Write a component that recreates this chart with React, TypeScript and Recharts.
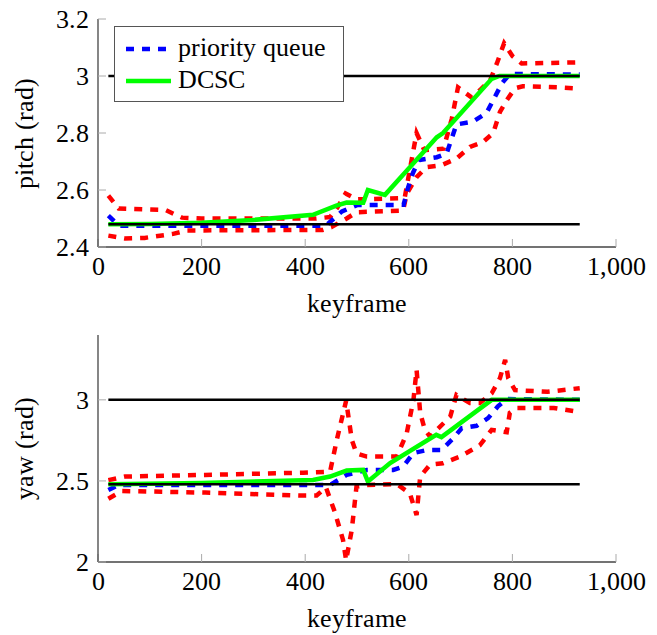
import React from 'react';
import { LineChart, Line, XAxis, YAxis } from 'recharts';

// keyframe ticks shared by both panels
const xTicks = [0, 200, 400, 600, 800, 1000];
const pitchTicks = [2.4, 2.6, 2.8, 3, 3.2];
const yawTicks = [2, 2.5, 3];

// reference levels (start / goal)
const pitchRefs = [2.48, 3];
const yawRefs = [2.48, 3];
const refSpan = [20, 930];

// pitch: [keyframe, rad]
const pitchDcsc = [
  [20, 2.48], [100, 2.481], [200, 2.485], [300, 2.495], [415, 2.513], [460, 2.545],
  [480, 2.556], [512, 2.555], [521, 2.6], [554, 2.583], [602, 2.68], [654, 2.785],
  [666, 2.8], [760, 2.99], [775, 3.0], [930, 3.0],
];
const pitchQueue = [
  [20, 2.51], [40, 2.475], [440, 2.475], [471, 2.525], [500, 2.547], [590, 2.548],
  [598, 2.605], [608, 2.66], [620, 2.705], [654, 2.715], [673, 2.728], [692, 2.83],
  [724, 2.84], [750, 2.87], [770, 2.94], [780, 2.975], [795, 3.007], [930, 3.005],
];
const pitchUpper = [
  [20, 2.58], [40, 2.535], [130, 2.53], [162, 2.503], [200, 2.5], [420, 2.5],
  [448, 2.505], [461, 2.535], [478, 2.588], [500, 2.567], [592, 2.572], [615, 2.8],
  [630, 2.74], [667, 2.745], [683, 2.85], [695, 2.96], [721, 2.925], [737, 2.95],
  [757, 2.985], [770, 3.044], [784, 3.115], [800, 3.07], [818, 3.044], [930, 3.048],
];
const pitchLower = [
  [20, 2.44], [52, 2.43], [90, 2.432], [145, 2.446], [172, 2.458], [434, 2.46],
  [451, 2.47], [480, 2.5], [499, 2.522], [589, 2.528], [596, 2.587], [615, 2.645],
  [634, 2.68], [663, 2.687], [692, 2.71], [718, 2.751], [743, 2.768], [763, 2.8],
  [776, 2.874], [789, 2.915], [805, 2.957], [820, 2.964], [892, 2.96], [930, 2.956],
];

// yaw: [keyframe, rad]
const yawDcsc = [
  [20, 2.48], [200, 2.487], [415, 2.506], [448, 2.527], [480, 2.564], [512, 2.568],
  [521, 2.496], [564, 2.61], [653, 2.784], [663, 2.77], [760, 3.0], [930, 3.0],
];
const yawQueue = [
  [20, 2.444], [40, 2.475], [448, 2.475], [480, 2.537], [519, 2.568], [570, 2.568],
  [589, 2.588], [609, 2.672], [634, 2.69], [663, 2.69], [685, 2.76], [702, 2.825],
  [731, 2.84], [753, 2.887], [772, 2.96], [789, 3.005], [930, 3.0],
];
const yawUpper = [
  [20, 2.505], [52, 2.527], [207, 2.537], [396, 2.551], [448, 2.557], [461, 2.753],
  [479, 2.995], [490, 2.753], [499, 2.67], [519, 2.65], [577, 2.65], [596, 2.794],
  [609, 3.0], [615, 3.185], [622, 2.92], [631, 2.815], [641, 2.773], [680, 2.897],
  [692, 3.03], [718, 2.98], [737, 2.98], [760, 3.04], [776, 3.134], [786, 3.247],
  [792, 3.134], [805, 3.06], [868, 3.05], [930, 3.072],
];
const yawLower = [
  [20, 2.39], [46, 2.438], [207, 2.428], [393, 2.41], [422, 2.41], [440, 2.46],
  [457, 2.31], [473, 2.136], [479, 2.01], [490, 2.2], [499, 2.465], [519, 2.475],
  [577, 2.48], [602, 2.424], [615, 2.29], [622, 2.527], [641, 2.6], [666, 2.609],
  [699, 2.65], [737, 2.72], [760, 2.815], [789, 2.8], [795, 2.92], [808, 2.95],
  [880, 2.95], [920, 2.93],
];

// local alias for the serif face
const FONT = 'LS';
const FS = 26;
const toPts = (pairs: number[][]) => pairs.map(([x, y]) => ({ x, y }));
const fmtX = (v: number) => v.toLocaleString('en-US');
const fmtY = (v: number) => String(+v.toFixed(1));

type PanelProps = {
  top: number;
  plotTop: number;
  yDomain: number[];
  yTicks: number[];
  yLabel: string;
  refs: number[];
  dcsc: number[][];
  queue: number[][];
  upper: number[][];
  lower: number[][];
};

const Panel = ({ top, plotTop, yDomain, yTicks, yLabel, refs, dcsc, queue, upper, lower }: PanelProps) => (
  <div style={{ position: 'absolute', left: 0, top }}>
    <LineChart width={657} height={320} margin={{ top: plotTop, right: 41, bottom: 0, left: 0 }}>
      <XAxis
        type="number"
        dataKey="x"
        domain={[0, 1000]}
        ticks={xTicks}
        tickFormatter={fmtX}
        height={73}
        tickSize={-8}
        tickMargin={18}
        tick={{ fill: '#000', fontSize: FS, fontFamily: FONT }}
        tickLine={{ stroke: '#aaa' }}
        axisLine={{ stroke: '#444', strokeWidth: 1.3 }}
        label={{ value: 'keyframe', position: 'insideBottom', offset: 8, fill: '#000', fontSize: FS, fontFamily: FONT }}
      />
      <YAxis
        type="number"
        domain={yDomain}
        ticks={yTicks}
        tickFormatter={fmtY}
        width={98}
        tickSize={-8}
        tickMargin={17}
        tick={{ fill: '#000', fontSize: FS, fontFamily: FONT }}
        tickLine={{ stroke: '#aaa' }}
        axisLine={{ stroke: '#444', strokeWidth: 1.3 }}
        label={{
          value: yLabel, angle: -90, position: 'insideLeft', offset: 24,
          fill: '#000', fontSize: FS, fontFamily: FONT, style: { textAnchor: 'middle' },
        }}
      />
      <Line data={toPts(lower)} dataKey="y" stroke="#ff0000" strokeWidth={4.5} strokeDasharray="8 8" dot={false} isAnimationActive={false} />
      <Line data={toPts(upper)} dataKey="y" stroke="#ff0000" strokeWidth={4.5} strokeDasharray="8 8" dot={false} isAnimationActive={false} />
      <Line data={toPts(queue)} dataKey="y" stroke="#0000ff" strokeWidth={4.5} strokeDasharray="8 8" dot={false} isAnimationActive={false} />
      <Line data={toPts(dcsc)} dataKey="y" stroke="#00ff00" strokeWidth={4.5} dot={false} isAnimationActive={false} />
      {refs.map(r => (
        <Line key={r} data={refSpan.map(x => ({ x, y: r }))} dataKey="y" stroke="#000" strokeWidth={2.5} dot={false} isAnimationActive={false} />
      ))}
    </LineChart>
  </div>
);

// legend drawn as plain HTML over the upper panel
const LegendBox = () => (
  <div style={{
    position: 'absolute', left: 114, top: 26, width: 228, height: 74, zIndex: 2,
    border: '1.2px solid #555', background: '#fff', fontFamily: FONT, fontSize: FS, color: '#000',
  }}>
    <svg width={60} height={74} style={{ position: 'absolute', left: 0, top: 0 }}>
      <line x1={11} x2={51} y1={22} y2={22} stroke="#0000ff" strokeWidth={4.5} strokeDasharray="8 8" />
      <line x1={11} x2={56} y1={54} y2={54} stroke="#00ff00" strokeWidth={4.5} />
    </svg>
    <div style={{ position: 'absolute', left: 63, top: 5, lineHeight: '32px', whiteSpace: 'nowrap' }}>
      <div>priority queue</div>
      <div>DCSC</div>
    </div>
  </div>
);

export default function App() {
  return (
    <div style={{ position: 'absolute', left: 0, top: 0, width: 657, height: 635, background: '#fff' }}>
      <style>{"@font-face { font-family: 'LS'; src: local('Liberation Serif'), local('LiberationSerif'), local('LiberationSerif-Regular'); }"}</style>
      <LegendBox />
      <Panel top={0} plotTop={19} yDomain={[2.4, 3.2]} yTicks={pitchTicks} yLabel="pitch (rad)" refs={pitchRefs}
        dcsc={pitchDcsc} queue={pitchQueue} upper={pitchUpper} lower={pitchLower} />
      <Panel top={315} plotTop={20} yDomain={[2, 3.4]} yTicks={yawTicks} yLabel="yaw (rad)" refs={yawRefs}
        dcsc={yawDcsc} queue={yawQueue} upper={yawUpper} lower={yawLower} />
    </div>
  );
}
